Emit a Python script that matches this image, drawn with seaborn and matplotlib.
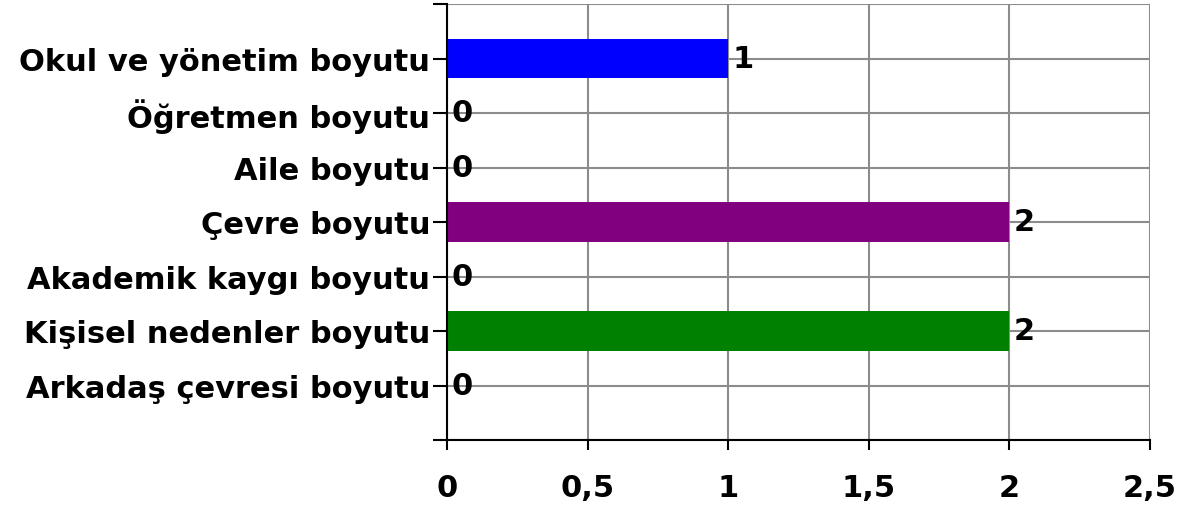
import numpy as np
import pandas as pd
import matplotlib
matplotlib.use('Agg')
import matplotlib.pyplot as plt
from matplotlib.ticker import FuncFormatter
import seaborn as sns

CATEGORIES = ['Okul ve yönetim boyutu', 'Öğretmen boyutu', 'Aile boyutu',
              'Çevre boyutu', 'Akademik kaygı boyutu', 'Kişisel nedenler boyutu',
              'Arkadaş çevresi boyutu']
VALUES = [1, 0, 0, 2, 0, 2, 0]
BAR_COLORS = ['#0000ff', '#ff00ff', '#ffff00', '#800080', '#00ffff', '#008000', '#800000']
X_TICKS = [0, 0.5, 1, 1.5, 2, 2.5]

FS = 22
GRID_COLOR = '#8c8c8c'

sns.set_style('white')
plt.rcParams['font.family'] = ['DejaVu Sans']
plt.rcParams['text.color'] = 'black'
plt.rcParams['xtick.color'] = 'black'
plt.rcParams['ytick.color'] = 'black'

df = pd.DataFrame({'kategori': CATEGORIES, 'deger': VALUES})

fig = plt.figure(figsize=(11.92, 5.06), dpi=100)
ax = fig.add_axes([447 / 1192, 65 / 506, 703 / 1192, 436 / 506])

sns.barplot(data=df, x='deger', y='kategori', hue='kategori', palette=BAR_COLORS,
            order=CATEGORIES, hue_order=CATEGORIES, width=0.72, legend=False,
            saturation=1, linewidth=0, ax=ax, zorder=3)

ax.set_xlim(0, 2.5)
ax.set_ylim(7, -1)
ax.set_xticks(X_TICKS)
ax.xaxis.set_major_formatter(FuncFormatter(lambda v, p: f'{v:g}'.replace('.', ',')))
ax.set_yticks(range(-1, 8))
ax.set_yticklabels([''] + CATEGORIES + [''])
ax.set_xlabel('')
ax.set_ylabel('')

ax.grid(True, axis='both', color=GRID_COLOR, linewidth=1.5, zorder=0)
ax.set_axisbelow(True)
for side in ['top', 'right']:
    ax.spines[side].set_visible(False)
for side in ['left', 'bottom']:
    ax.spines[side].set_color('black')
    ax.spines[side].set_linewidth(1.5)
    ax.spines[side].set_zorder(4)

ax.tick_params(axis='y', direction='out', length=10, width=1.5, colors='black',
               labelsize=FS, pad=2, left=True)
ax.tick_params(axis='x', direction='out', length=7, width=1.5, colors='black',
               labelsize=FS, pad=17, bottom=True)
for lbl in ax.get_xticklabels() + ax.get_yticklabels():
    lbl.set_fontweight('bold')

# değer etiketleri
for i, v in enumerate(VALUES):
    ax.annotate(f'{v}', (v, i), xytext=(3, 0), textcoords='offset points',
                ha='left', va='center', fontsize=FS, fontweight='bold',
                color='black', zorder=5)

plt.savefig('out.png', dpi=100)
